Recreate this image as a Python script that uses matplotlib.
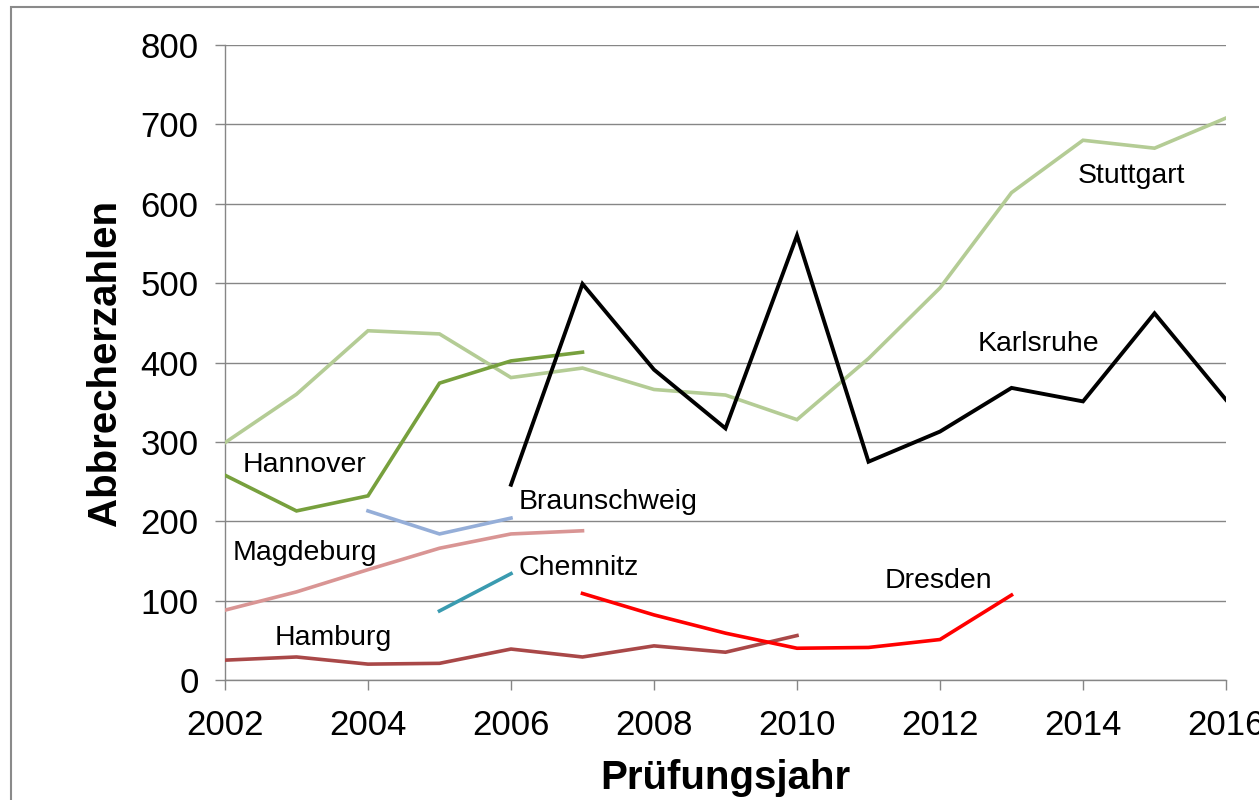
import numpy as np
import matplotlib.pyplot as plt
from matplotlib.patches import Rectangle

plt.rcParams["font.family"] = ["Liberation Sans", "DejaVu Sans"]

years = list(range(2002, 2017))

# Abbrecherzahlen per city, first year of each series
stuttgart_years = list(range(2002, 2017))
stuttgart = [299, 360, 440, 436, 381, 393, 366, 359, 328, 405, 494, 614, 680, 670, 708]

karlsruhe_years = list(range(2006, 2017))
karlsruhe = [246, 499, 391, 317, 560, 275, 313, 368, 351, 462, 353]

hannover_years = list(range(2002, 2008))
hannover = [258, 213, 232, 374, 402, 413]

braunschweig_years = [2004, 2005, 2006]
braunschweig = [213, 184, 204]

magdeburg_years = list(range(2002, 2008))
magdeburg = [88, 111, 139, 166, 184, 188]

chemnitz_years = [2005, 2006]
chemnitz = [87, 134]

hamburg_years = list(range(2002, 2011))
hamburg = [25, 29, 20, 21, 39, 29, 43, 35, 56]

dresden_years = list(range(2007, 2014))
dresden = [109, 82, 59, 40, 41, 51, 107]

series = [
    ("Stuttgart", stuttgart_years, stuttgart, "#B4CC95", 2.6),
    ("Hannover", hannover_years, hannover, "#77A03D", 2.6),
    ("Braunschweig", braunschweig_years, braunschweig, "#95AED8", 2.6),
    ("Magdeburg", magdeburg_years, magdeburg, "#D99594", 2.6),
    ("Chemnitz", chemnitz_years, chemnitz, "#3A9BB0", 2.6),
    ("Hamburg", hamburg_years, hamburg, "#A94848", 2.6),
    ("Dresden", dresden_years, dresden, "#FF0000", 2.6),
    ("Karlsruhe", karlsruhe_years, karlsruhe, "#000000", 2.8),
]

# label anchors (left edge, vertical centre) in data coords
label_pos = {
    "Hannover": (2002.25, 271),
    "Braunschweig": (2006.1, 224),
    "Magdeburg": (2002.1, 160),
    "Chemnitz": (2006.1, 141),
    "Hamburg": (2002.69, 53),
    "Dresden": (2011.23, 125),
    "Karlsruhe": (2012.52, 423),
    "Stuttgart": (2013.92, 635),
}

fig = plt.figure(figsize=(12.59, 8), dpi=100)
ax = fig.add_axes([0.1787, 0.15, 0.9738 - 0.1787, 0.94375 - 0.15])

for name, xs, ys, color, lw in series:
    ax.plot(xs, ys, color=color, linewidth=lw, solid_joinstyle="miter", zorder=3)
    lx, ly = label_pos[name]
    ax.text(lx, ly, name, fontsize=20.5, ha="left", va="center", color="black", zorder=4)

ax.set_xlim(2002, 2016)
ax.set_ylim(0, 800)
ax.set_xticks(years[::2])
ax.set_yticks(range(0, 801, 100))
ax.tick_params(axis="both", labelsize=25, length=7, color="#868686", width=1)
ax.tick_params(axis="x", pad=14)
ax.tick_params(axis="y", pad=12)

ax.grid(axis="y", color="#868686", linewidth=1)
ax.set_axisbelow(True)
for side in ["top", "right"]:
    ax.spines[side].set_visible(False)
for side in ["left", "bottom"]:
    ax.spines[side].set_color("#868686")
    ax.spines[side].set_linewidth(1)

ax.set_xlabel("Prüfungsjahr", fontsize=29, fontweight="bold", labelpad=12)
ax.set_ylabel("Abbrecherzahlen", fontsize=29, fontweight="bold", labelpad=12)

# outer frame of the original slide/chart area
fig.patches.append(Rectangle((11 / 1259, -0.05), 1.2, 1 - 7 / 800 + 0.05,
                             transform=fig.transFigure, fill=False,
                             edgecolor="#8a8a8a", linewidth=1.5))

fig.savefig("out.png", dpi=100, facecolor="white")
